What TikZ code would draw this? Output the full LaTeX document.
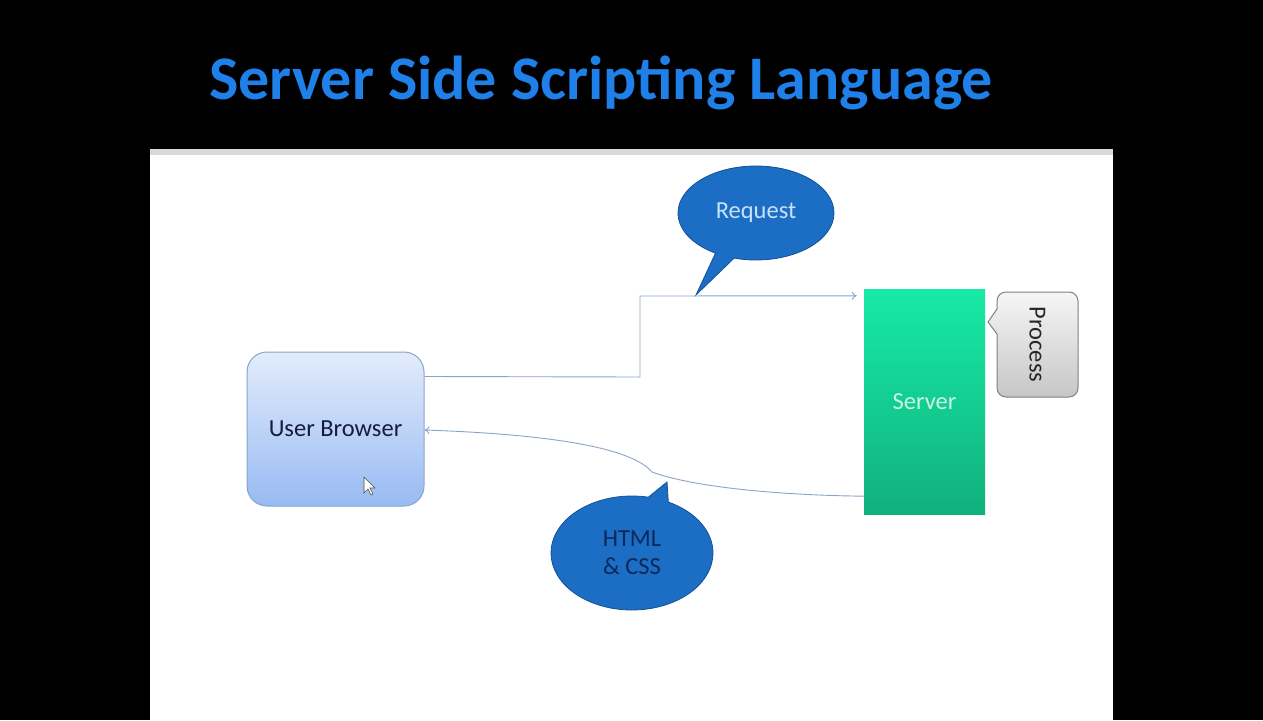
\documentclass[tikz,border=0pt]{standalone}
\usepackage{fontspec}
\setmainfont{Carlito}
\usetikzlibrary{shapes.callouts,shapes.geometric,arrows.meta}
\definecolor{titleblue}{RGB}{30,128,232}
\definecolor{bubblefill}{RGB}{28,110,196}
\definecolor{bubbleedge}{RGB}{20,80,150}
\definecolor{conncol}{RGB}{138,164,200}
\definecolor{srvtop}{RGB}{24,234,166}
\definecolor{srvbot}{RGB}{16,176,124}
\definecolor{brtop}{RGB}{226,236,252}
\definecolor{brbot}{RGB}{152,187,243}
\definecolor{bredge}{RGB}{138,163,200}
\tikzset{
  conn/.style={draw=conncol, line width=0.9pt, -{To[length=5pt,width=8pt]}},
  bubble/.style={ellipse callout, fill=bubblefill, draw=bubbleedge, line width=0.8pt, font=\fontsize{24.5}{26}\selectfont},
  lbl/.style={font=\fontsize{24.5}{26}\selectfont},
}
\begin{document}
\begin{tikzpicture}[x=1pt,y=-1pt]
\useasboundingbox (0,0) rectangle (1263,720);
\fill[black] (0,0) rectangle (1263,720);
\fill[white!70!gray] (150,149) rectangle (1113,156);
\fill[white] (150,155) rectangle (1113,720);
\node[text=titleblue, font=\bfseries\fontsize{62}{66}\selectfont] (title) at (601,83) {Server Side Scripting Language};
% browser
\node[draw=bredge, line width=1pt, rounded corners=20pt, top color=brtop, bottom color=brbot,
  minimum width=177pt, minimum height=154pt, text=black!80!blue!80!gray, lbl] (browser) at (335.5,429) {User Browser};
% server
\node[top color=srvtop, bottom color=srvbot, minimum width=121pt, minimum height=225pt,
  text={rgb,255:red,200;green,245;blue,228}, lbl] (server) at (924.5,401.5) {Server};
% process callout
\path[top color={rgb,255:red,246;green,246;blue,246}, bottom color={rgb,255:red,198;green,198;blue,198},
  draw=gray, line width=1pt]
  (1037,292) [rounded corners=9pt] -- (1078,292) -- (1078,397) -- (997,397) -- (997,360)
  [sharp corners] -- (997,334) -- (988,322) -- (997,309) -- (997,302) [rounded corners=9pt] -- (997,292) -- cycle;
\node[rotate=-90, lbl, text=black!85] (proctext) at (1037.5,344.5) {Process};
% request bubble
\node[bubble, callout absolute pointer={(696,295)}, minimum width=156pt, minimum height=94pt,
  text={rgb,255:red,200;green,225;blue,250}] (req) at (756,213) {Request};
% html bubble
\node[bubble, callout absolute pointer={(667,482)}, minimum width=162pt, minimum height=114pt,
  text={rgb,255:red,12;green,40;blue,90}, align=center, font=\fontsize{24.5}{28}\selectfont] (html) at (632,553) {HTML\\\& CSS};
% connectors
\coordinate (bend1) at (640,377);
\coordinate (bend2) at (640,296);
\draw[conn] ([yshift=-25pt]browser.north east) -- (bend1) -- (bend2) -- ([xshift=-7pt,yshift=-7pt]server.north west);
\draw[conn] ([yshift=18pt]server.south west) .. controls (770,495) and (690,486) .. (652,472)
  .. controls (640,458) and (600,436) .. ([yshift=-1pt]browser.east);
% mouse cursor
\draw[fill=white, draw=black!70, line width=0.6pt] (364,477) -- (364,493) -- (368,489) -- (371,495) -- (373,494) -- (370,488) -- (375,488) -- cycle;
\end{tikzpicture}
\end{document}
